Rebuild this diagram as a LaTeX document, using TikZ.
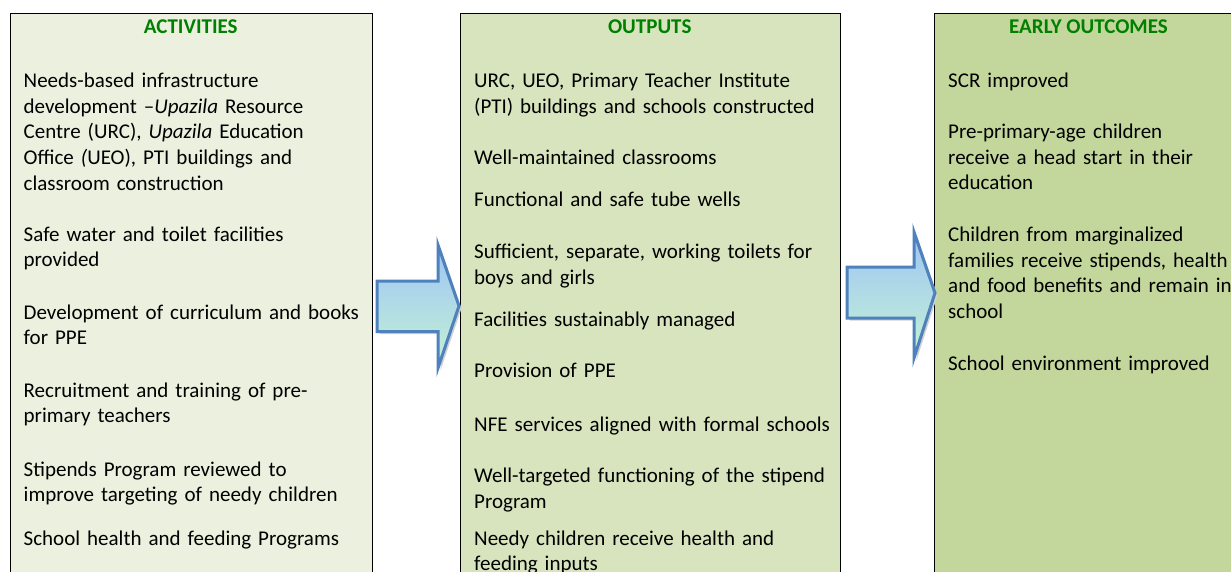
\documentclass[tikz,border=0pt]{standalone}
\usepackage{fontspec}
\setmainfont{Carlito}
\definecolor{boxa}{HTML}{EBF1DE}
\definecolor{boxb}{HTML}{D7E4BD}
\definecolor{boxc}{HTML}{C3D69B}
\definecolor{titlegreen}{HTML}{008000}
\definecolor{arrowblue}{HTML}{4F81BD}
\definecolor{arrowtop}{HTML}{9EC5F5}
\definecolor{arrowbot}{HTML}{C4F2D4}
\tikzset{
  colbox/.style={draw=black, line width=1.4pt, anchor=north west, inner sep=0pt, minimum height=620pt},
  ttl/.style={anchor=base, inner sep=0pt, font=\fontsize{21}{25.7}\selectfont\bfseries, text=titlegreen},
  para/.style={anchor=base west, inner sep=0pt, text width=380pt, align=left, font=\fontsize{21}{25.7}\selectfont},
  blockarrow/.style={draw=arrowblue, line width=3pt, line join=miter, top color=arrowtop, bottom color=arrowbot},
  arrowshadow/.style={fill=black!18}
}
\begin{document}
\begin{tikzpicture}[x=1pt, y=-1pt]
\useasboundingbox (0,0) rectangle (1231,571);
\clip (0,0) rectangle (1231,571);
\fill[white] (0,0) rectangle (1231,571);

% column boxes
\node[colbox, fill=boxa, minimum width=362.5pt] (actbox) at (9.5,12.5) {};
\node[colbox, fill=boxb, minimum width=380.5pt] (outbox) at (459.5,12.5) {};
\node[colbox, fill=boxc, minimum width=309pt] (ocbox) at (934,12.5) {};

% titles
\node[ttl] (actttl) at (190.75,33) {ACTIVITIES};
\node[ttl] (outttl) at (649.75,33) {OUTPUTS};
\node[ttl] (octtl) at (1088.5,33) {EARLY OUTCOMES};

% activities
\node[para] (a1) at (23.5,87.5) {Needs-based infrastructure\\development –\textit{Upazila} Resource\\Centre (URC), \textit{Upazila} Education\\Office \textit{(}UEO), PTI buildings and\\classroom construction};
\node[para] (a2) at (23.5,241) {Safe water and toilet facilities\\provided};
\node[para] (a3) at (23.5,319) {Development of curriculum and books\\for PPE};
\node[para] (a4) at (23.5,397) {Recruitment and training of pre-\\primary teachers};
\node[para] (a5) at (23.5,476) {Stipends Program reviewed to\\improve targeting of needy children};
\node[para] (a6) at (23.5,545) {School health and feeding Programs};

% outputs
\node[para] (o1) at (474,87.5) {URC, UEO, Primary Teacher Institute\\(PTI) buildings and schools constructed};
\node[para] (o2) at (474,164.3) {Well-maintained classrooms};
\node[para] (o3) at (474,206) {Functional and safe tube wells};
\node[para] (o4) at (474,258.3) {Sufficient, separate, working toilets for\\boys and girls};
\node[para] (o5) at (474,326.7) {Facilities sustainably managed};
\node[para] (o6) at (474,377.7) {Provision of PPE};
\node[para] (o7) at (474,431) {NFE services aligned with formal schools};
\node[para] (o8) at (474,482.7) {Well-targeted functioning of the stipend\\Program};
\node[para] (o9) at (474,545) {Needy children receive health and\\feeding inputs};

% early outcomes
\node[para] (e1) at (948,87.5) {SCR improved};
\node[para] (e2) at (948,138.5) {Pre-primary-age children\\receive a head start in their\\education};
\node[para] (e3) at (948,241.5) {Children from marginalized\\families receive stipends, health\\and food benefits and remain in\\school};
\node[para] (e4) at (948,370) {School environment improved};

% block arrows
\fill[arrowshadow] (379.5,283.5) -- (440.5,283.5) -- (440.5,247.5) -- (461.5,308.5) -- (440.5,370.5) -- (440.5,334) -- (379.5,334) -- cycle;
\path[blockarrow] (377,281) -- (438,281) -- (438,245) -- (459,306) -- (438,368) -- (438,331.5) -- (377,331.5) -- cycle;
\fill[arrowshadow] (849.5,269.5) -- (916.5,269.5) -- (916.5,234.5) -- (937.5,295.5) -- (916.5,360.5) -- (916.5,320.5) -- (849.5,320.5) -- cycle;
\path[blockarrow] (847,267) -- (914,267) -- (914,232) -- (935,293) -- (914,358) -- (914,318) -- (847,318) -- cycle;
\end{tikzpicture}
\end{document}
